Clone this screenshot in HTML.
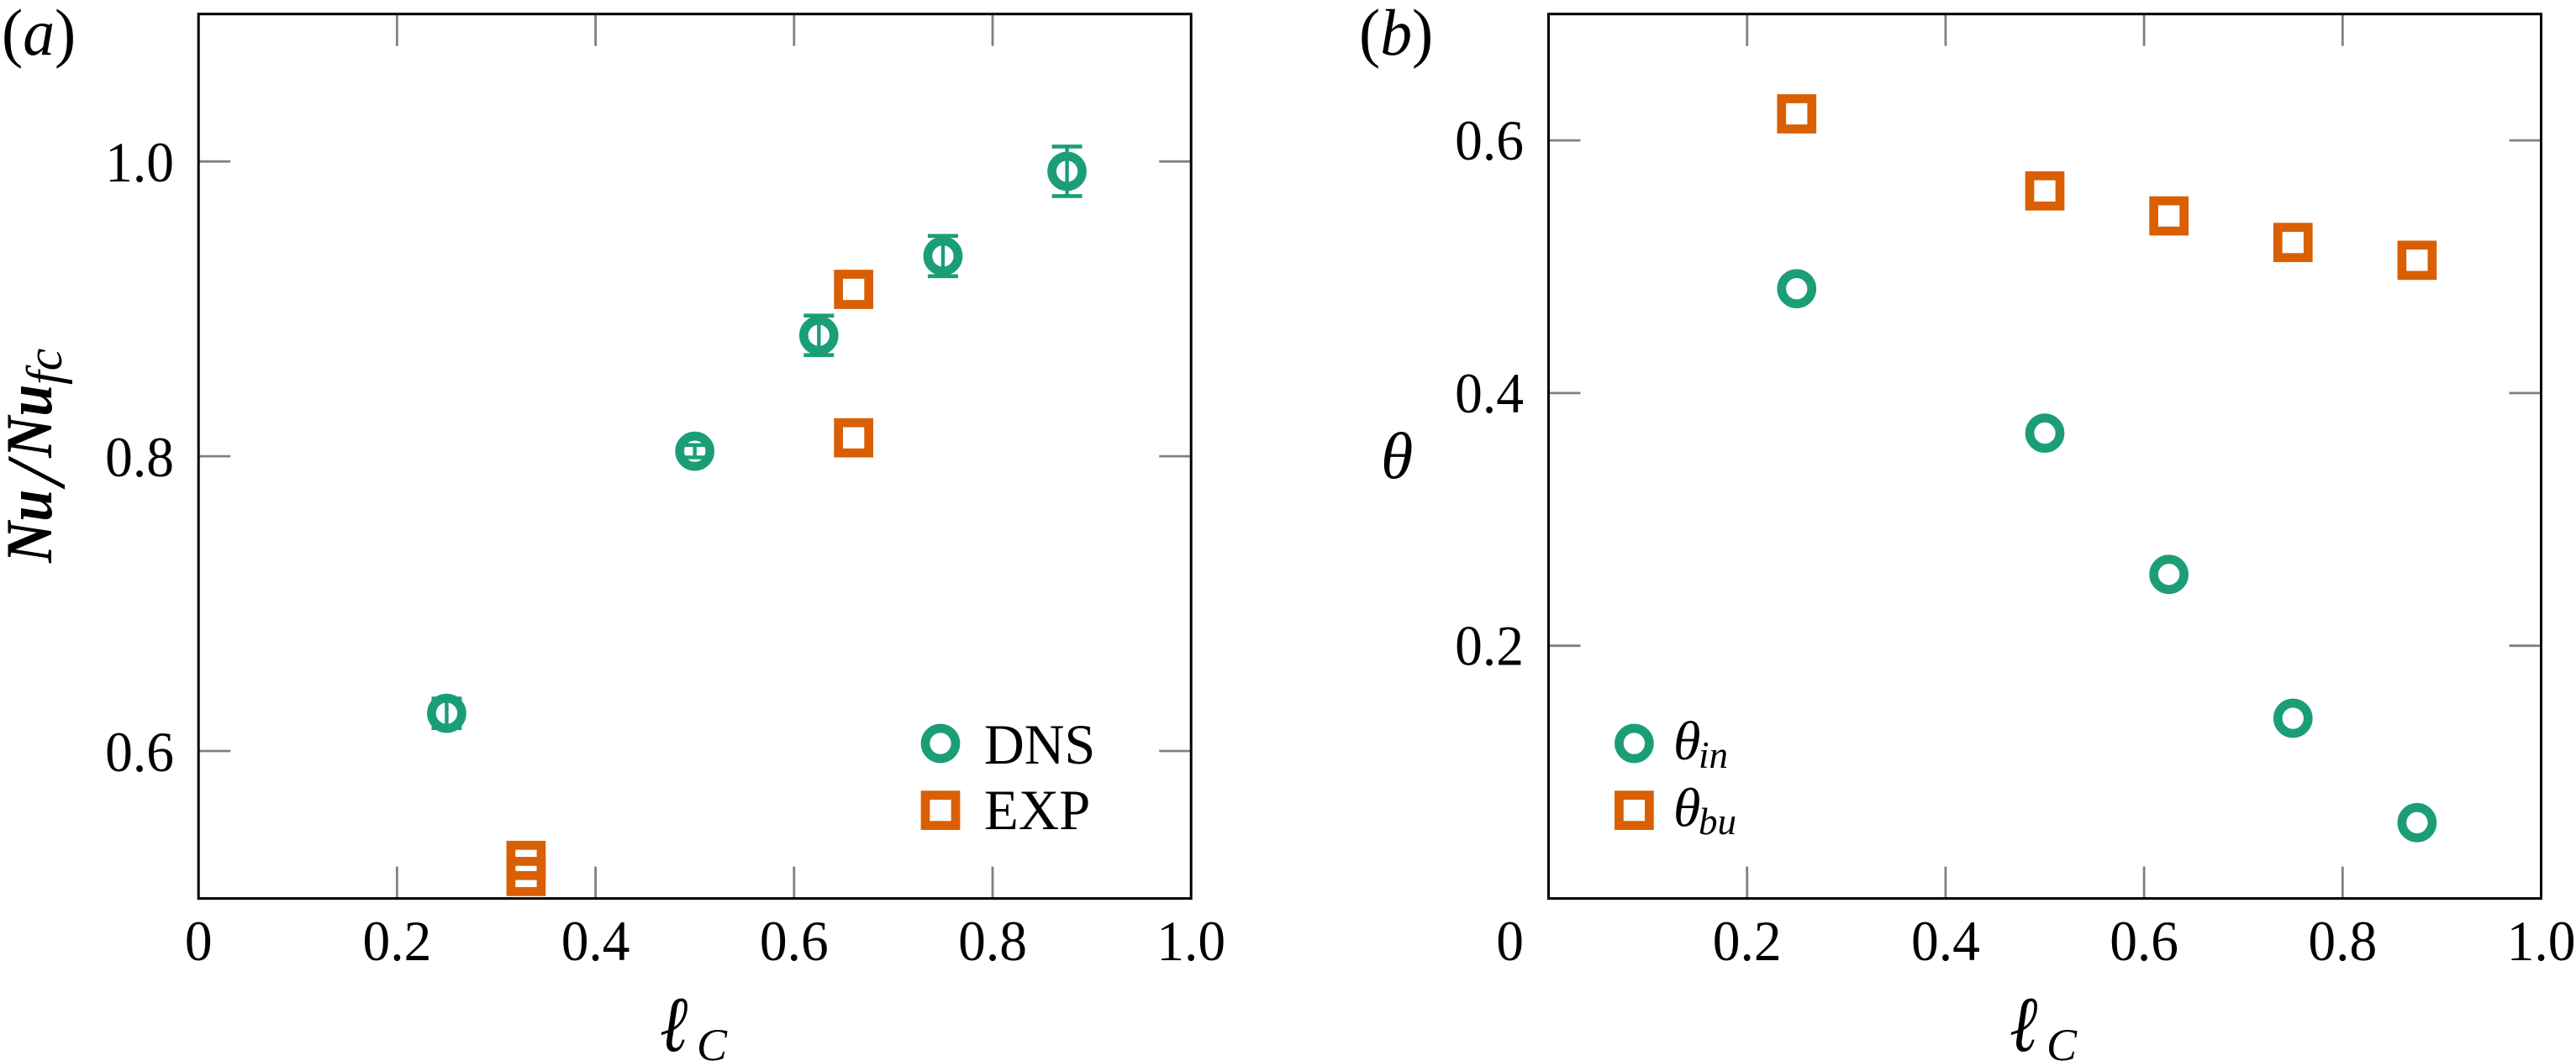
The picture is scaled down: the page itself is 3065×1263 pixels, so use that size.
<!DOCTYPE html>
<html lang="en">
<head>
<meta charset="utf-8">
<title>Nu and theta versus l_C</title>
<style>
  html, body { margin: 0; padding: 0; background: #fff; }
  svg { display: block; }
  text { font-family: "Liberation Serif", "DejaVu Serif", serif; fill: #000; }
</style>
</head>
<body>
<svg id="figure" xmlns="http://www.w3.org/2000/svg" width="3065" height="1263" viewBox="0 0 3065 1263">
  <rect x="0" y="0" width="3065" height="1263" fill="#ffffff"/>

  <g id="panel-a"></g>
  <g id="panel-b"></g>

  <text transform="translate(2,65) scale(.97,1)" font-size="78">(<tspan font-style="italic">a</tspan>)</text>
  <text transform="translate(1617,65) scale(.97,1)" font-size="78">(<tspan font-style="italic">b</tspan>)</text>

  <text transform="translate(61,670) rotate(-90) scale(.875,1)" font-size="78" font-style="italic"><tspan font-weight="bold" x="0">Nu</tspan><tspan font-weight="bold" x="143">Nu</tspan></text>
  <text transform="translate(76,578) rotate(-90)" font-size="100" font-style="italic">/</text>
  <text transform="translate(73,458) rotate(-90)" font-size="60" font-style="italic">fc</text>
  <text x="1643" y="569" font-size="78" font-style="italic">θ</text>

  <text transform="translate(785,1251) scale(.85,1)" font-size="94" font-style="italic">ℓ</text>
  <text x="829" y="1262" font-size="54" font-style="italic">C</text>
  <text transform="translate(2391,1251) scale(.85,1)" font-size="94" font-style="italic">ℓ</text>
  <text x="2435" y="1262" font-size="54" font-style="italic">C</text>

  <text transform="translate(1171,909) scale(.98,1)" font-size="67.5">DNS</text>
  <text transform="translate(1171,987) scale(.99,1)" font-size="67.5">EXP</text>
  <text x="1991" y="904" font-size="66" font-style="italic">θ<tspan x="2021" y="914" font-size="45">in</tspan></text>
  <text x="1991" y="983.5" font-size="66" font-style="italic">θ<tspan x="2021" y="993" font-size="45">bu</tspan></text>
</svg>

<script>
// Panel (a) data
const aDnsX = [0.25, 0.5, 0.625, 0.75, 0.875];
const aDnsY = [0.6256, 0.8034, 0.882, 0.9358, 0.9933];
const aDnsErr = [0.01, 0.0042, 0.0134, 0.0137, 0.0168];
const aExpX = [0.66, 0.66, 0.33, 0.33];
const aExpY = [0.9132, 0.8125, 0.5258, 0.5149];
const aXTicks = [0, 0.2, 0.4, 0.6, 0.8, 1.0];
const aXTickLabels = ['0', '0.2', '0.4', '0.6', '0.8', '1.0'];
const aYTicks = [0.6, 0.8, 1.0];
const aYTickLabels = ['0.6', '0.8', '1.0'];

// Panel (b) data
const bThetaX = [0.25, 0.5, 0.625, 0.75, 0.875];
const bThetaIn = [0.4826, 0.3683, 0.2565, 0.1426, 0.06];
const bThetaBu = [0.621, 0.56, 0.5402, 0.5192, 0.5051];
const bXTicks = [0.2, 0.4, 0.6, 0.8, 1.0];
const bXTickLabels = ['0.2', '0.4', '0.6', '0.8', '1.0'];
const bYTicks = [0, 0.2, 0.4, 0.6];
const bYTickLabels = ['0', '0.2', '0.4', '0.6'];

const NS = 'http://www.w3.org/2000/svg';
const GREEN = '#1b9e77';
const ORANGE = '#d95f02';
const TICK_COLOR = '#808080';
const TICK_LEN = 38;
const MARK_R = 18;
const MARK_STROKE = 10.7;
const CAP_HALF = 18;

function make(parent, tag, attrs) {
  const el = document.createElementNS(NS, tag);
  for (const k in attrs) el.setAttribute(k, attrs[k]);
  parent.appendChild(el);
  return el;
}
function axisX(frame, v) {
  return frame.left + (v - frame.xMin) / (frame.xMax - frame.xMin) * (frame.right - frame.left);
}
function axisY(frame, v) {
  return frame.bottom - (v - frame.yMin) / (frame.yMax - frame.yMin) * (frame.bottom - frame.top);
}
function tickLabel(parent, x, y, str, anchorEnd) {
  const el = make(parent, 'text', {
    transform: 'translate(' + x + ',' + y + ') scale(.97,1)',
    'font-size': 67.5,
    'text-anchor': anchorEnd ? 'end' : 'middle'
  });
  el.textContent = str;
  return el;
}
function circleMark(parent, cx, cy) {
  return make(parent, 'circle', { cx: cx, cy: cy, r: MARK_R, fill: 'none', stroke: GREEN, 'stroke-width': MARK_STROKE });
}
function squareMark(parent, cx, cy) {
  return make(parent, 'rect', { x: cx - MARK_R, y: cy - MARK_R, width: 2 * MARK_R, height: 2 * MARK_R, fill: 'none', stroke: ORANGE, 'stroke-width': MARK_STROKE });
}
function drawTicks(g, frame, xTicks, yTicks) {
  xTicks.forEach(function (v) {
    if (v <= frame.xMin || v >= frame.xMax) return;
    const x = axisX(frame, v);
    const b = make(g, 'line', { x1: x, x2: x, y1: frame.bottom, y2: frame.bottom - TICK_LEN, stroke: TICK_COLOR, 'stroke-width': 2.8 });
    
    
    const t = make(g, 'line', { x1: x, x2: x, y1: frame.top, y2: frame.top + TICK_LEN, stroke: TICK_COLOR, 'stroke-width': 2.8 });
    
    
  });
  yTicks.forEach(function (v) {
    if (v <= frame.yMin || v >= frame.yMax) return;
    const y = axisY(frame, v);
    const l = make(g, 'line', { x1: frame.left, x2: frame.left + TICK_LEN, y1: y, y2: y, stroke: TICK_COLOR, 'stroke-width': 2.8 });
    
    
    const r = make(g, 'line', { x1: frame.right, x2: frame.right - TICK_LEN, y1: y, y2: y, stroke: TICK_COLOR, 'stroke-width': 2.8 });
    
    
  });
}
function drawFrame(g, frame) {
  const box = make(g, 'rect', { x: frame.left, y: frame.top, width: frame.right - frame.left, height: frame.bottom - frame.top, fill: 'none', stroke: '#000', 'stroke-width': 3 });
  
  
}

// ----- Panel (a) -----
const frameA = { left: 236.2, right: 1417.2, top: 16.7, bottom: 1069.5, xMin: 0, xMax: 1, yMin: 0.5, yMax: 1.1 };
const gA = document.getElementById('panel-a');
drawTicks(gA, frameA, aXTicks, aYTicks);
drawFrame(gA, frameA);

aXTicks.forEach(function (v, i) {
  const el = tickLabel(gA, axisX(frameA, v), 1143, aXTickLabels[i], false);
  
  
});
aYTicks.forEach(function (v, i) {
  const el = tickLabel(gA, 207, axisY(frameA, v) + 24, aYTickLabels[i], true);
  
  
});

aDnsX.forEach(function (xv, i) {
  const x = axisX(frameA, xv);
  const y = axisY(frameA, aDnsY[i]);
  const hi = axisY(frameA, aDnsY[i] + aDnsErr[i]);
  const lo = axisY(frameA, aDnsY[i] - aDnsErr[i]);
  const c = circleMark(gA, x, y);
  
  
  const stem = make(gA, 'line', { x1: x, x2: x, y1: hi, y2: lo, stroke: GREEN, 'stroke-width': 4.4 });
  
  
  const capTop = make(gA, 'line', { x1: x - CAP_HALF, x2: x + CAP_HALF, y1: hi, y2: hi, stroke: GREEN, 'stroke-width': 4.6 });
  
  
  const capBot = make(gA, 'line', { x1: x - CAP_HALF, x2: x + CAP_HALF, y1: lo, y2: lo, stroke: GREEN, 'stroke-width': 4.6 });
  
  
});
aExpX.forEach(function (xv, i) {
  const s = squareMark(gA, axisX(frameA, xv), axisY(frameA, aExpY[i]));
  
  
});

const legDns = circleMark(gA, 1119, 885);


const legExp = squareMark(gA, 1119, 964.6);



// ----- Panel (b) -----
const frameB = { left: 1842.5, right: 3023.5, top: 16.7, bottom: 1069.5, xMin: 0, xMax: 1, yMin: 0, yMax: 0.7 };
const gB = document.getElementById('panel-b');
drawTicks(gB, frameB, bXTicks, bYTicks);
drawFrame(gB, frameB);

bXTicks.forEach(function (v, i) {
  const el = tickLabel(gB, axisX(frameB, v), 1143, bXTickLabels[i], false);
  
  
});
bYTicks.forEach(function (v, i) {
  const baseline = v === 0 ? 1143 : axisY(frameB, v) + 23;
  const el = tickLabel(gB, 1813, baseline, bYTickLabels[i], true);
  
  
});

bThetaX.forEach(function (xv, i) {
  const c = circleMark(gB, axisX(frameB, xv), axisY(frameB, bThetaIn[i]));
  
  
  const s = squareMark(gB, axisX(frameB, xv), axisY(frameB, bThetaBu[i]));
  
  
});

const legIn = circleMark(gB, 1944.4, 885);


const legBu = squareMark(gB, 1944.4, 964.6);


</script>
</body>
</html>
